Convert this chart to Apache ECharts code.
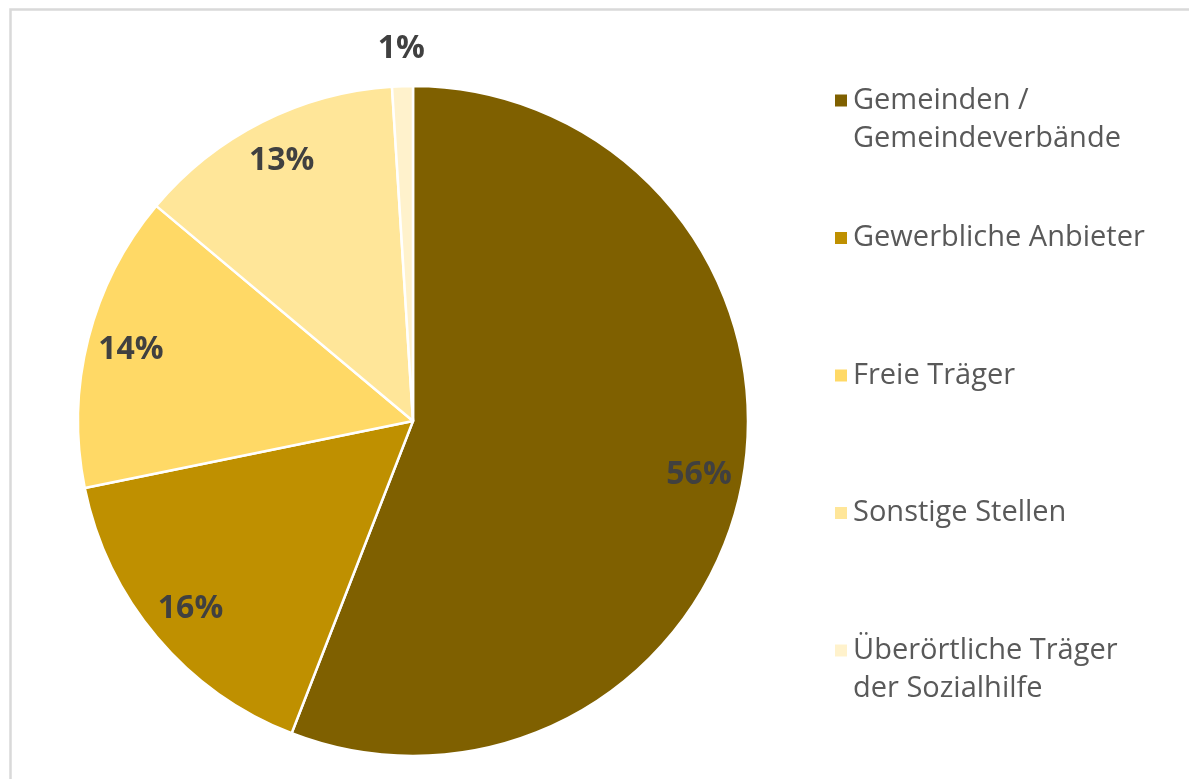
<html>
    <head>
        <meta charset="utf-8">
        <script src='https://cdn.jsdelivr.net/npm/echarts@6/dist/echarts.min.js'></script>
    </head>
    <body>
        <style>
            html, body, #main {
                width: 100%;
                height: 100%;
                margin: 0;
                background: #fff;
            }
        </style>
        <div id='main'></div>
        <script>
            // Anteile in Prozent, im Uhrzeigersinn ab 12 Uhr
            var categories = ['Gemeinden /\nGemeindeverbände', 'Gewerbliche Anbieter', 'Freie Träger', 'Sonstige Stellen', 'Überörtliche Träger\nder Sozialhilfe'];
            var values = [55.9, 15.9, 14.3, 12.9, 1.0];
            var labels = ['56%', '16%', '14%', '13%', '1%'];
            var colors = ['#7F6000', '#BF9000', '#FFD966', '#FFE699', '#FFF2CC'];

            var chart = echarts.init(document.getElementById('main'));

            var labelStyle = {
                fontFamily: 'Open Sans',
                fontWeight: 'bold',
                fontSize: 32,
                color: '#404040',
                formatter: function (p) { return labels[p.dataIndex]; }
            };

            function ringData(showFn) {
                return categories.map(function (c, i) {
                    return { name: c, value: values[i], label: { show: showFn(i) } };
                });
            }

            // transparente Ringe nur für die Labels (Position = Ringmitte)
            function labelRing(radius, showFn) {
                return {
                    type: 'pie',
                    center: [413, 421],
                    radius: radius,
                    startAngle: 90,
                    silent: true,
                    itemStyle: { color: 'transparent', borderWidth: 0 },
                    label: Object.assign({ position: 'inside' }, labelStyle),
                    labelLine: { show: false },
                    data: ringData(showFn)
                };
            }

            var option = {
                color: colors,
                animation: false,
                graphic: [{
                    type: 'rect',
                    left: 8,
                    top: 7,
                    shape: { width: 1400, height: 1000 },
                    style: { fill: null, stroke: '#d9d9d9', lineWidth: 2.5 },
                    silent: true
                }],
                legend: {
                    orient: 'vertical',
                    left: 828,
                    top: 43,
                    icon: 'rect',
                    itemWidth: 14,
                    itemHeight: 14,
                    itemGap: 32.5,
                    selectedMode: false,
                    data: categories,
                    // leere Zeile oben, damit das Kästchen auf Höhe der ersten Zeile steht
                    formatter: function (name) {
                        var lines = name.split('\n');
                        if (lines.length < 2) lines.push(' ');
                        return '{a| }\n' + lines.map(function (l) { return '{a|' + l + '}'; }).join('\n');
                    },
                    textStyle: {
                        rich: {
                            a: {
                                fontFamily: 'Open Sans',
                                fontSize: 29,
                                color: '#595959',
                                lineHeight: 38,
                                padding: [0, 0, 0, 0]
                            }
                        }
                    }
                },
                series: [{
                    type: 'pie',
                    center: [413, 421],
                    radius: [0, 335],
                    startAngle: 90,
                    silent: true,
                    itemStyle: { borderColor: '#fff', borderWidth: 2.5 },
                    label: { show: false },
                    labelLine: { show: false },
                    data: ringData(function () { return false; })
                },
                labelRing([250, 326], function (i) { return i !== 4; }),
                labelRing([340, 398], function (i) { return i === 4; })
                ]
            };

            chart.setOption(option);
            window.onresize = chart.resize;
        </script>
    </body>
</html>
